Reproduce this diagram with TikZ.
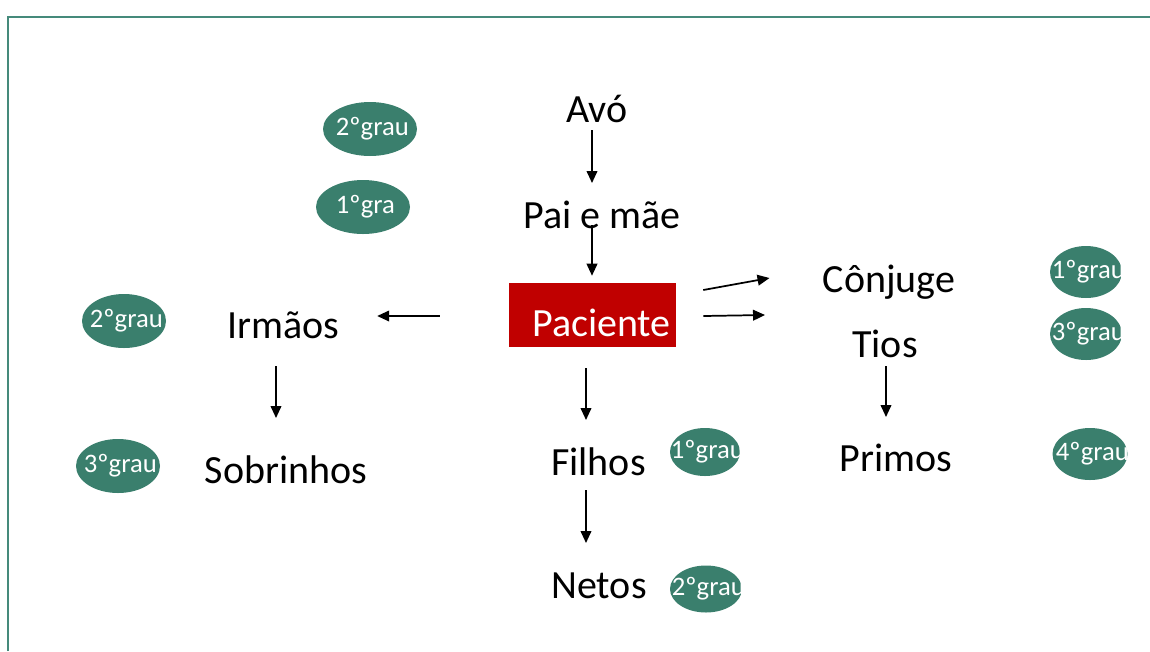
\documentclass[tikz,border=0pt]{standalone}
\usepackage{fontspec}
\setmainfont{Carlito}
\usepackage{xcolor}
\usetikzlibrary{arrows.meta,shapes.geometric}

\definecolor{verde}{HTML}{3A7F6D}
\definecolor{borda}{HTML}{458A7B}
\definecolor{vermelho}{HTML}{C00000}

\tikzset{
    txt/.style={inner sep=0pt, anchor=base, font=\fontsize{30}{36}\selectfont},
    grau/.style={ellipse, fill=verde, inner sep=0pt,
        label={[text=white, inner sep=0pt, xshift=1.8pt, font=\fontsize{20}{24}\selectfont]center:#1}},
    arr/.style={-{Triangle[length=9pt,width=8pt]}, line width=1.3pt, black},
}

\begin{document}
\begin{tikzpicture}[x=0.75pt, y=-0.75pt]
    \useasboundingbox (0,0) rectangle (1150,651);

    % moldura
    \coordinate (cBL) at (8,651);
    \coordinate (cTL) at (8,17);
    \coordinate (cTR) at (1150,17);
    \draw [borda, line width=2.2pt] (cBL)--(cTL)--(cTR);

    % paciente
    \node [fill=vermelho, minimum width=125.25pt, minimum height=48pt, inner sep=0pt] (pacbox) at (592.5,315) {};
    \node [txt, text=white] (paciente) at (601.5,336) {Paciente};

    % parentes
    \node [txt] (avo) at (597,122) {Avó};
    \node [txt] (pai) at (602,228) {Pai e mãe};
    \node [txt] (irmaos) at (283,338) {Irmãos};
    \node [txt] (sobrinhos) at (286,483) {Sobrinhos};
    \node [txt] (conjuge) at (889,292) {Cônjuge};
    \node [txt] (tios) at (885,357) {Tios};
    \node [txt] (primos) at (896,471) {Primos};
    \node [txt] (filhos) at (598.5,475) {Filhos};
    \node [txt] (netos) at (599,598) {Netos};

    % graus
    \node [grau=2ºgrau, minimum width=70.5pt, minimum height=40.5pt] (gAvo) at (370,129) {};
    \node [grau=1ºgra, minimum width=70.5pt, minimum height=40.5pt] (gPai) at (363,207) {};
    \node [grau=2ºgrau, minimum width=63pt, minimum height=40.5pt] (gIrm) at (124,321) {};
    \node [grau=3ºgrau, minimum width=63pt, minimum height=40.5pt] (gSob) at (118,466) {};
    \node [grau=1ºgrau, minimum width=54pt, minimum height=39pt] (gCon) at (1086,272) {};
    \node [grau=3ºgrau, minimum width=54pt, minimum height=39pt] (gTio) at (1086,334) {};
    \node [grau=4ºgrau, minimum width=56.25pt, minimum height=39pt] (gPri) at (1090,454) {};
    \node [grau=1ºgrau, minimum width=52.5pt, minimum height=36pt] (gFil) at (705,452) {};
    \node [grau=2ºgrau, minimum width=54pt, minimum height=35.25pt] (gNet) at (706,589) {};

    % setas
    \draw [arr] ([shift={(-5,8)}]avo.base) -- ([shift={(-10,-45)}]pai.base);
    \draw [arr] ([shift={(-10,-3)}]pai.base) -- ([shift={(-0.5,-7)}]pacbox.north);
    \draw [arr] ([shift={(-69,1)}]pacbox.west) -- ([shift={(38,-22)}]irmaos.base east);
    \draw [arr] ([shift={(27,-25)}]pacbox.east) -- ([shift={(-53,-14)}]conjuge.base west);
    \draw [arr] ([shift={(27,1)}]pacbox.east) -- ([shift={(-87,-42)}]tios.base west);
    \draw [arr] ([shift={(-6.5,21)}]pacbox.south) -- ([shift={(-12.5,-55)}]filhos.base);
    \draw [arr] ([shift={(-12.5,15)}]filhos.base) -- ([shift={(-13,-55)}]netos.base);
    \draw [arr] ([shift={(-7,28)}]irmaos.base) -- ([shift={(-10,-65)}]sobrinhos.base);
    \draw [arr] ([shift={(1,9)}]tios.base) -- ([shift={(-10,-54)}]primos.base);

\end{tikzpicture}
\end{document}
